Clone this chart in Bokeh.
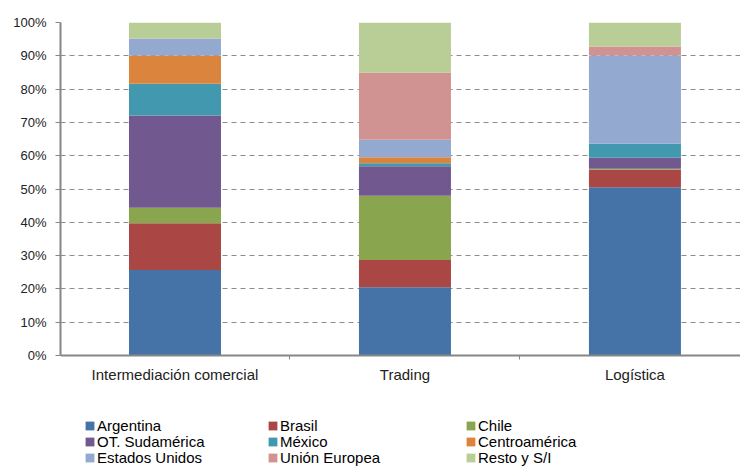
from bokeh.plotting import figure
from bokeh.models import (ColumnDataSource, Range1d, FixedTicker, NumeralTickFormatter,
                          Legend, LegendItem, LinearAxis)
from bokeh.embed import file_html
from bokeh.resources import INLINE

categories = ["Intermediación comercial", "Trading", "Logística"]
series = ["Argentina", "Brasil", "Chile", "OT. Sudamérica", "México",
          "Centroamérica", "Estados Unidos", "Unión Europea", "Resto y S/I"]
colors = ["#4572A7", "#AA4643", "#89A54E", "#71588F", "#4198AF",
          "#DB843D", "#93A9CF", "#D19392", "#B9CD96"]

# shares (%) per category, one list per series
argentina = [25.7, 20.5, 50.5]
brasil = [14.0, 8.2, 5.3]
chile = [4.7, 19.3, 0.3]
ot_sudamerica = [27.7, 8.8, 3.3]
mexico = [9.5, 0.9, 4.2]
centroamerica = [8.5, 1.8, 0.0]
estados_unidos = [5.1, 5.3, 26.5]
union_europea = [0.0, 20.1, 2.7]
resto = [4.8, 15.1, 7.2]

values = [argentina, brasil, chile, ot_sudamerica, mexico,
          centroamerica, estados_unidos, union_europea, resto]

x = list(range(len(categories)))
data = {"x": x}
keys = []
for i, v in enumerate(values):
    k = f"s{i}"
    keys.append(k)
    data[k] = [a / 100.0 for a in v]
src = ColumnDataSource(data)

# frame spans down to the bottom of the page so the legend is not clipped;
# value 0 sits at 355 px, 1 at 22 px
p = figure(width=740, height=466, output_backend="svg", toolbar_location=None,
           x_range=Range1d(-0.4978, 2.459), y_range=Range1d(-0.3333, 1),
           x_axis_location=None,
           min_border_left=60, min_border_right=0, min_border_top=22,
           min_border_bottom=0)
p.outline_line_color = None

renderers = p.vbar_stack(keys, x="x", width=0.4, source=src, color=colors,
                         line_color=None)

# y axis
p.yaxis.bounds = (0, 1)
p.yaxis.ticker = FixedTicker(ticks=[i / 10 for i in range(11)])
p.yaxis.formatter = NumeralTickFormatter(format="0%")
p.yaxis.axis_line_color = "#868686"
p.yaxis.axis_line_width = 2
p.yaxis.major_tick_line_color = "#868686"
p.yaxis.major_tick_out = 5
p.yaxis.major_tick_in = 0
p.yaxis.minor_tick_line_color = None
p.yaxis.major_label_text_font = "Liberation Sans"
p.yaxis.major_label_text_font_size = "13px"
p.yaxis.major_label_text_color = "#222222"
p.yaxis.major_label_standoff = 9

# x axis pinned at value 0
xa = LinearAxis(fixed_location=0,
                ticker=FixedTicker(ticks=x, minor_ticks=[-0.5, 0.5, 1.5, 2.5]))
xa.major_label_overrides = {i: c for i, c in enumerate(categories)}
xa.axis_line_color = "#868686"
xa.axis_line_width = 2
xa.major_tick_line_color = None
xa.minor_tick_line_color = "#868686"
xa.minor_tick_out = 4
xa.minor_tick_in = 0
xa.major_label_text_font = "Liberation Sans"
xa.major_label_text_font_size = "15px"
xa.major_label_text_color = "#222222"
xa.major_label_standoff = 4
p.add_layout(xa, "below")

p.xgrid.grid_line_color = None
p.ygrid.grid_line_color = "#8c8c8c"
p.ygrid.grid_line_dash = "5 4"
p.ygrid.grid_line_width = 1

# legend: 3 x 3 grid, one small legend per entry
col_x = [24, 207, 405]
row_y = [32, 16, 0]
for i in range(9):
    r, c = divmod(i, 3)
    leg = Legend(items=[LegendItem(label=series[i], renderers=[renderers[i]])],
                 location=(col_x[c], row_y[r]), orientation="vertical",
                 padding=0, margin=0, spacing=0, label_height=15,
                 glyph_width=11, glyph_height=11, label_standoff=2,
                 label_text_font="Liberation Sans", label_text_font_size="15px",
                 label_text_color="#000000", border_line_color=None,
                 background_fill_alpha=0)
    p.add_layout(leg, "center")

open("out.html", "w").write(file_html(p, INLINE))
